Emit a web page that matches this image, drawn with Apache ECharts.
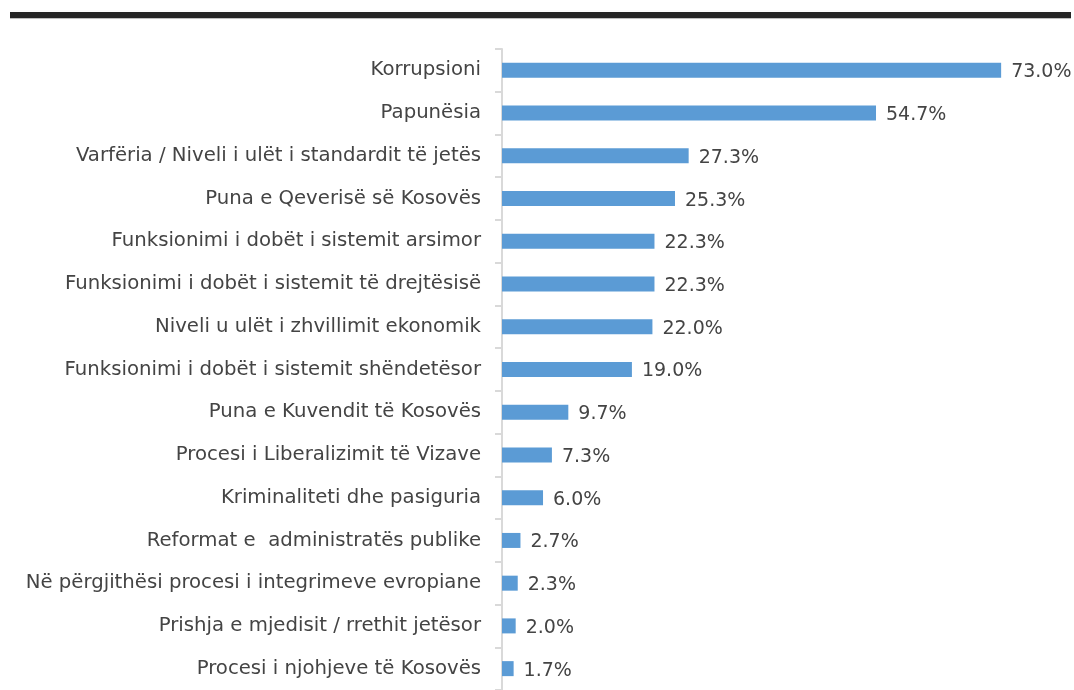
<!DOCTYPE html>
<html>
<head>
<meta charset="utf-8">
<script src="https://cdn.jsdelivr.net/npm/echarts@6/dist/echarts.min.js"></script>
<style>
  html, body { margin: 0; padding: 0; background: #fff; }
  #chart { width: 1074px; height: 690px; }
</style>
</head>
<body>
<div id="chart"></div>
<script>
const categories = [
  "Korrupsioni",
  "Papunësia",
  "Varfëria / Niveli i ulët i standardit të jetës",
  "Puna e Qeverisë së Kosovës",
  "Funksionimi i dobët i sistemit arsimor",
  "Funksionimi i dobët i sistemit të drejtësisë",
  "Niveli u ulët i zhvillimit ekonomik",
  "Funksionimi i dobët i sistemit shëndetësor",
  "Puna e Kuvendit të Kosovës",
  "Procesi i Liberalizimit të Vizave",
  "Kriminaliteti dhe pasiguria",
  "Reformat e  administratës publike",
  "Në përgjithësi procesi i integrimeve evropiane",
  "Prishja e mjedisit / rrethit jetësor",
  "Procesi i njohjeve të Kosovës"
];
const values = [73.0, 54.7, 27.3, 25.3, 22.3, 22.3, 22.0, 19.0, 9.7, 7.3, 6.0, 2.7, 2.3, 2.0, 1.7];

const chart = echarts.init(document.getElementById("chart"));
const option = {
  animation: false,
  textStyle: { fontFamily: "DejaVu Sans" },
  graphic: [
    // thick rule on top
    { type: "rect", shape: { x: 10, y: 12, width: 1061, height: 6 }, style: { fill: "#262626" } },
    { type: "rect", shape: { x: 10, y: 18, width: 1061, height: 1 }, style: { fill: "#bfbfbf" } }
  ],
  grid: { left: 502, top: 49, width: 547, height: 643 },
  xAxis: {
    type: "value",
    min: 0,
    max: 80,
    show: false
  },
  yAxis: {
    type: "category",
    data: categories,
    inverse: true,
    axisLine: { show: true, lineStyle: { color: "#d9d9d9", width: 2 } },
    axisTick: { show: true, length: 7, lineStyle: { color: "#d9d9d9", width: 2 } },
    axisLabel: { margin: 21, fontSize: 19.7, color: "#444444" }
  },
  series: [
    {
      type: "bar",
      data: values,
      barWidth: 15,
      itemStyle: { color: "#5b9bd5" },
      label: {
        show: true,
        position: "right",
        distance: 10,
        fontSize: 19,
        color: "#444444",
        offset: [0, 2],
        formatter: p => p.value.toFixed(1) + "%"
      }
    }
  ]
};
chart.setOption(option);
</script>
</body>
</html>
